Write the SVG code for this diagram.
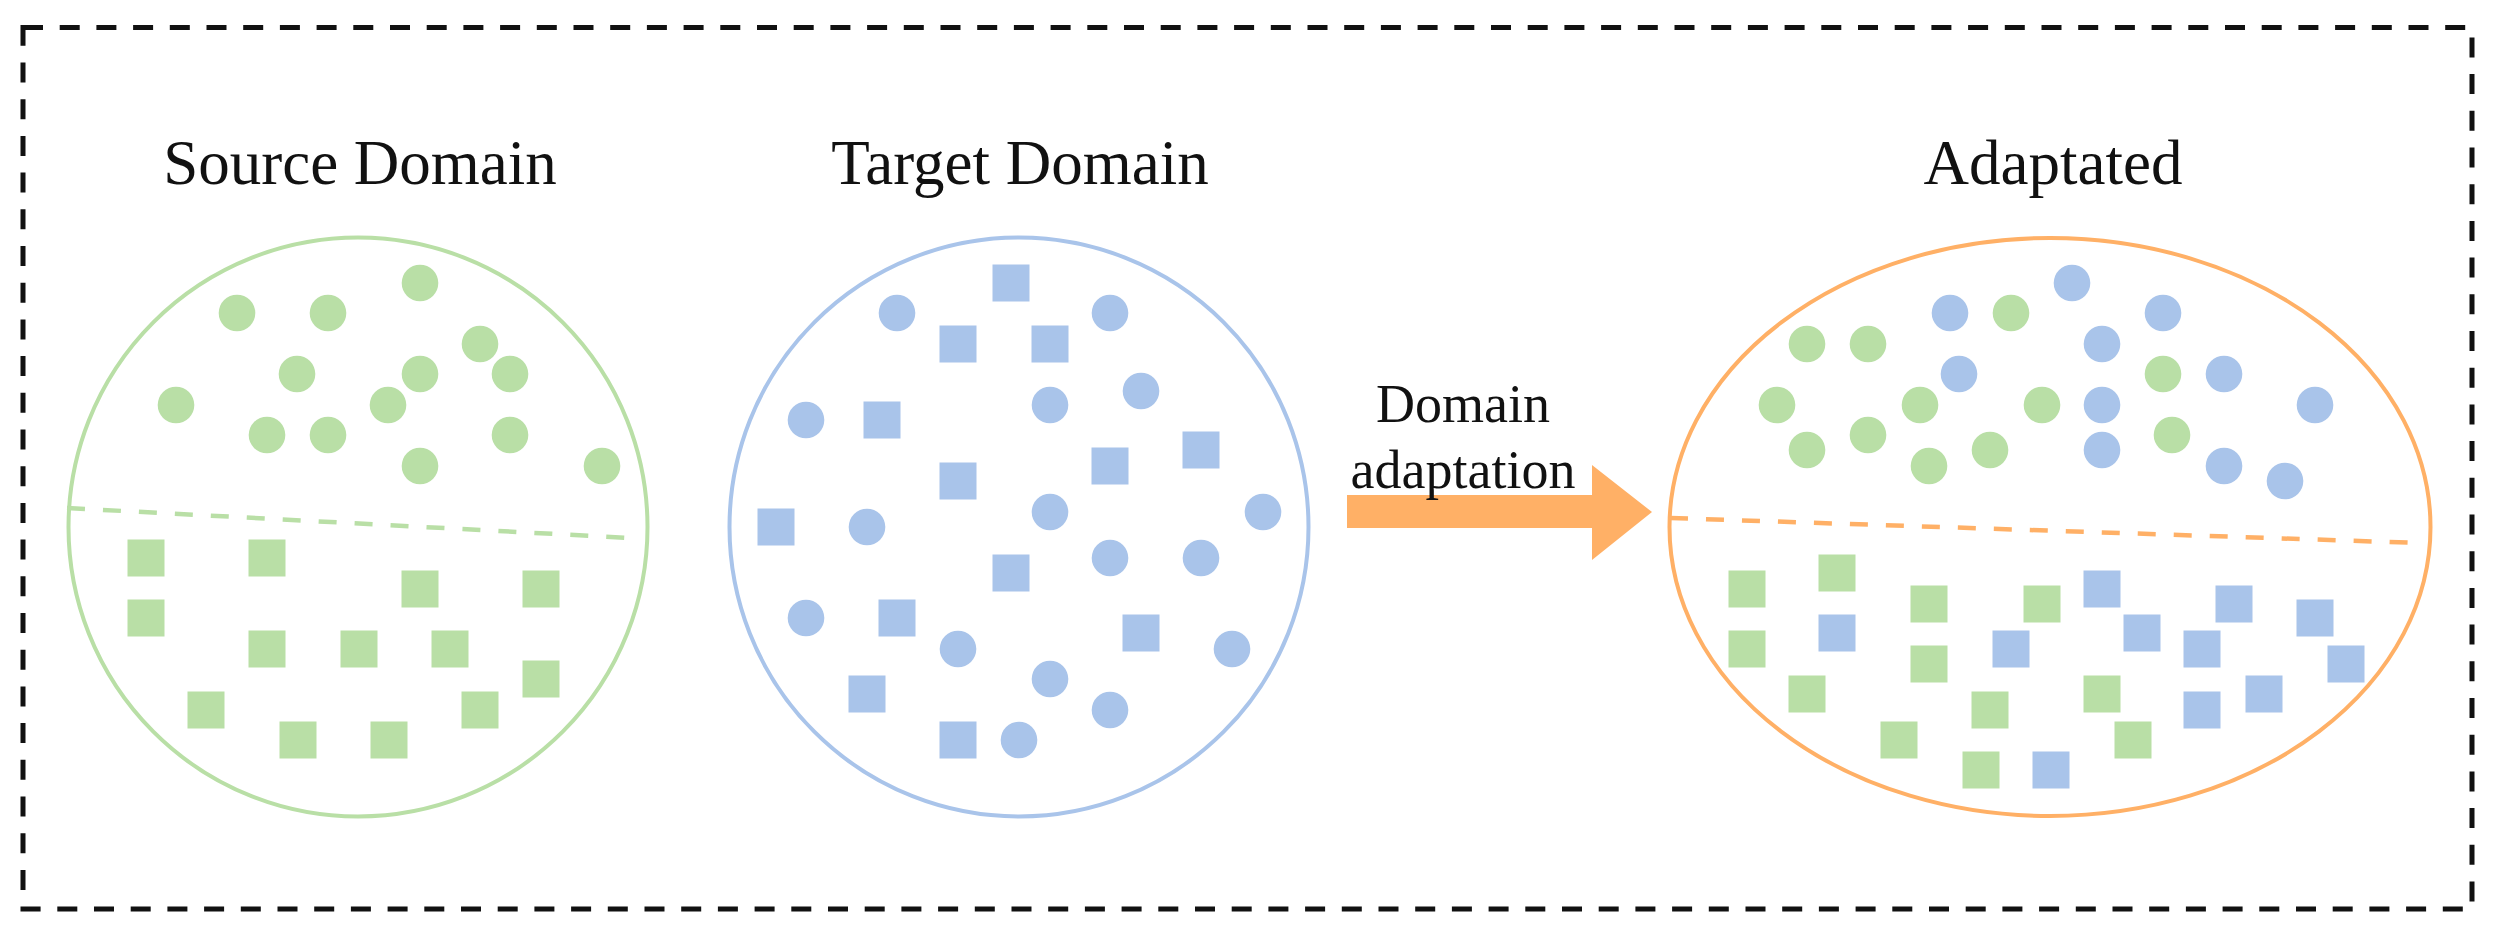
<svg xmlns="http://www.w3.org/2000/svg" xmlns:xlink="http://www.w3.org/1999/xlink" width="2495" height="935" viewBox="0 0 2495 935">
<style>
.title{font-family:"Liberation Serif","Times New Roman",serif;font-size:63px;fill:#111;text-anchor:middle}
.lbl{font-family:"Liberation Serif","Times New Roman",serif;font-size:54px;fill:#111;text-anchor:middle}
.g{fill:#b9dfa6}
.b{fill:#a9c4ea}
.sep{fill:none;stroke-width:4.5;stroke-dasharray:18 18}
</style>
<defs>
<circle id="dot" r="18.3"/>
<rect id="sq" x="-18.5" y="-18.5" width="37" height="37"/>
</defs>
<rect width="2495" height="935" fill="#fff"/>
<g id="frame">
<rect x="23" y="27.5" width="2449" height="881.5" fill="none" stroke="#111" stroke-width="5" stroke-dasharray="20 16.7"/>
</g>

<g id="source">
<text class="title" x="360" y="184">Source Domain</text>
<circle cx="358" cy="527" r="289.5" fill="none" stroke="#b9dfa6" stroke-width="4"/>
<line class="sep" x1="67" y1="508" x2="630" y2="538" stroke="#b9dfa6"/>
<g class="g">
<use href="#dot" x="237" y="313"/><use href="#dot" x="328" y="313"/><use href="#dot" x="420" y="283"/><use href="#dot" x="480" y="344"/>
<use href="#dot" x="297" y="374"/><use href="#dot" x="420" y="374"/><use href="#dot" x="510" y="374"/><use href="#dot" x="176" y="405"/>
<use href="#dot" x="388" y="405"/><use href="#dot" x="267" y="435"/><use href="#dot" x="328" y="435"/><use href="#dot" x="510" y="435"/>
<use href="#dot" x="420" y="466"/><use href="#dot" x="602" y="466"/>
<use href="#sq" x="146" y="558"/><use href="#sq" x="267" y="558"/><use href="#sq" x="420" y="589"/><use href="#sq" x="541" y="589"/>
<use href="#sq" x="146" y="618"/><use href="#sq" x="267" y="649"/><use href="#sq" x="359" y="649"/><use href="#sq" x="450" y="649"/>
<use href="#sq" x="541" y="679"/><use href="#sq" x="206" y="710"/><use href="#sq" x="480" y="710"/><use href="#sq" x="298" y="740"/>
<use href="#sq" x="389" y="740"/>
</g>
</g>

<g id="target">
<text class="title" x="1020" y="184">Target Domain</text>
<circle cx="1019" cy="527" r="289.5" fill="none" stroke="#a9c4ea" stroke-width="4"/>
<g class="b">
<use href="#dot" x="897" y="313"/><use href="#dot" x="1110" y="313"/><use href="#dot" x="1141" y="391"/><use href="#dot" x="1050" y="405"/>
<use href="#dot" x="806" y="420"/><use href="#dot" x="1050" y="512"/><use href="#dot" x="1263" y="512"/><use href="#dot" x="867" y="527"/>
<use href="#dot" x="1110" y="558"/><use href="#dot" x="1201" y="558"/><use href="#dot" x="806" y="618"/><use href="#dot" x="958" y="649"/>
<use href="#dot" x="1232" y="649"/><use href="#dot" x="1050" y="679"/><use href="#dot" x="1110" y="710"/><use href="#dot" x="1019" y="740"/>
<use href="#sq" x="1011" y="283"/><use href="#sq" x="958" y="344"/><use href="#sq" x="1050" y="344"/><use href="#sq" x="882" y="420"/>
<use href="#sq" x="1201" y="450"/><use href="#sq" x="1110" y="466"/><use href="#sq" x="958" y="481"/><use href="#sq" x="776" y="527"/>
<use href="#sq" x="1011" y="573"/><use href="#sq" x="897" y="618"/><use href="#sq" x="1141" y="633"/><use href="#sq" x="867" y="694"/>
<use href="#sq" x="958" y="740"/>
</g>
</g>

<g id="connectors">
<polygon points="1347,495 1592,495 1592,465 1652,512 1592,560 1592,528 1347,528" fill="#ffb066"/>
<text class="lbl" x="1463" y="422">Domain</text>
<text class="lbl" x="1463" y="488">adaptation</text>
</g>

<g id="adapted">
<text class="title" x="2053" y="184">Adaptated</text>
<ellipse cx="2050" cy="527" rx="380.5" ry="289" fill="none" stroke="#ffb066" stroke-width="4"/>
<line class="sep" x1="1670" y1="518" x2="2419" y2="543" stroke="#ffb066"/>
<g class="g">
<use href="#dot" x="2011" y="313"/><use href="#dot" x="1807" y="344"/><use href="#dot" x="1868" y="344"/><use href="#dot" x="1777" y="405"/>
<use href="#dot" x="1920" y="405"/><use href="#dot" x="2042" y="405"/><use href="#dot" x="2163" y="374"/><use href="#dot" x="1868" y="435"/>
<use href="#dot" x="2172" y="435"/><use href="#dot" x="1807" y="450"/><use href="#dot" x="1990" y="450"/><use href="#dot" x="1929" y="466"/>
<use href="#sq" x="1747" y="589"/><use href="#sq" x="1837" y="573"/><use href="#sq" x="1929" y="604"/><use href="#sq" x="2042" y="604"/>
<use href="#sq" x="1747" y="649"/><use href="#sq" x="1929" y="664"/><use href="#sq" x="1807" y="694"/><use href="#sq" x="1990" y="710"/>
<use href="#sq" x="2102" y="694"/><use href="#sq" x="1899" y="740"/><use href="#sq" x="2133" y="740"/><use href="#sq" x="1981" y="770"/>
</g>
<g class="b">
<use href="#dot" x="2072" y="283"/><use href="#dot" x="1950" y="313"/><use href="#dot" x="2163" y="313"/><use href="#dot" x="2102" y="344"/>
<use href="#dot" x="1959" y="374"/><use href="#dot" x="2224" y="374"/><use href="#dot" x="2102" y="405"/><use href="#dot" x="2315" y="405"/>
<use href="#dot" x="2102" y="450"/><use href="#dot" x="2224" y="466"/><use href="#dot" x="2285" y="481"/>
<use href="#sq" x="2102" y="589"/><use href="#sq" x="2234" y="604"/><use href="#sq" x="1837" y="633"/><use href="#sq" x="2011" y="649"/>
<use href="#sq" x="2142" y="633"/><use href="#sq" x="2202" y="649"/><use href="#sq" x="2315" y="618"/><use href="#sq" x="2346" y="664"/>
<use href="#sq" x="2264" y="694"/><use href="#sq" x="2202" y="710"/><use href="#sq" x="2051" y="770"/>
</g>
</g>
</svg>
